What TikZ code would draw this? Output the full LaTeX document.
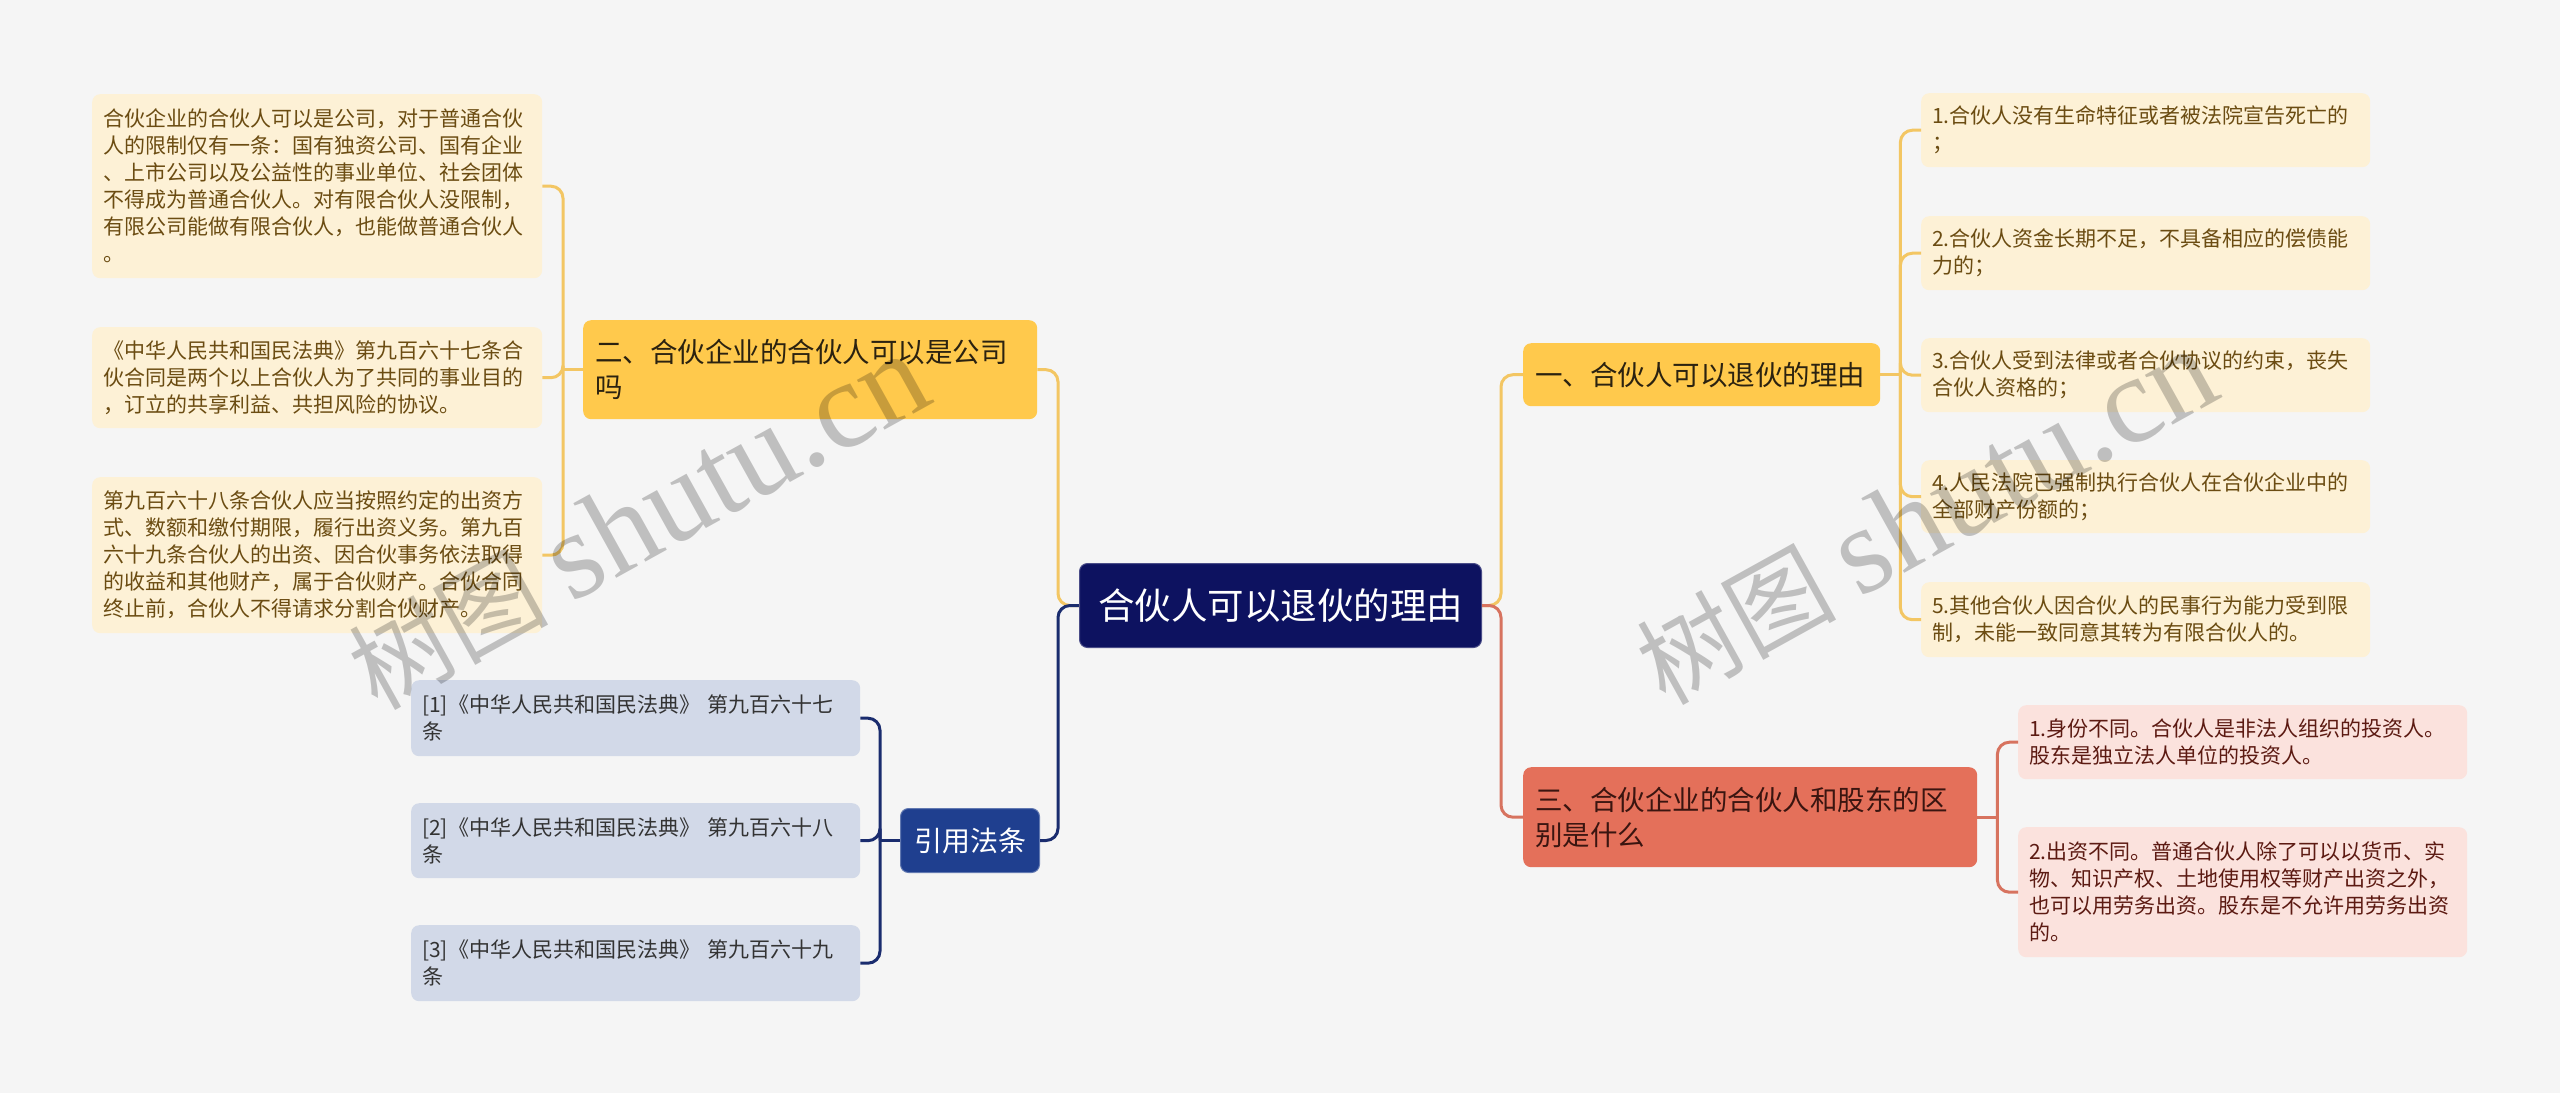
\documentclass[tikz,border=0pt]{standalone}
\usepackage{fontspec}
\setmainfont{Noto Sans CJK SC}
\newfontfamily\wmserif{Liberation Serif}
\definecolor{bgc}{HTML}{F5F5F5}
\definecolor{rootc}{HTML}{0D1260}
\definecolor{goldc}{HTML}{FFC94C}
\definecolor{goldtx}{HTML}{2B2210}
\definecolor{creamc}{HTML}{FDF1D6}
\definecolor{creamtx}{HTML}{6B4C12}
\definecolor{citc}{HTML}{D2D9E8}
\definecolor{cittx}{HTML}{333333}
\definecolor{citbc}{HTML}{1F3F8F}
\definecolor{salc}{HTML}{E4705A}
\definecolor{saltx}{HTML}{3A1510}
\definecolor{pinkc}{HTML}{FBE2DD}
\definecolor{pinktx}{HTML}{5C1A12}
\definecolor{goldln}{HTML}{F3C663}
\definecolor{navyln}{HTML}{1A2C6E}
\definecolor{salln}{HTML}{D7735F}
\tikzset{
  box/.style={rectangle, rounded corners=8pt, anchor=north west, inner xsep=11pt, inner ysep=0pt, align=left},
  leafY/.style={box, fill=creamc, text=creamtx, font=\fontsize{21}{27}\selectfont},
  leafC/.style={box, fill=citc, text=cittx, font=\fontsize{21}{27}\selectfont},
  leafP/.style={box, fill=pinkc, text=pinktx, font=\fontsize{21}{27}\selectfont},
  brG/.style={box, fill=goldc, text=goldtx, inner xsep=12pt, font=\fontsize{27.5}{35}\selectfont},
  brS/.style={box, fill=salc, text=saltx, inner xsep=12pt, font=\fontsize{27.5}{35}\selectfont},
  brC/.style={box, fill=citbc, draw=citbc!70!white, line width=1pt, text=white, align=center, font=\fontsize{28}{34}\selectfont},
  rootbox/.style={box, fill=rootc, draw=rootc!75!white, line width=1pt, text=white, align=center, font=\fontsize{36.5}{44}\selectfont},
  conG/.style={draw=goldln, line width=3pt, rounded corners=12pt},
  conN/.style={draw=navyln, line width=3pt, rounded corners=12pt},
  conS/.style={draw=salln, line width=3pt, rounded corners=12pt},
  wmark/.style={text=black, opacity=0.22, inner sep=0pt}
}
\begin{document}
\begin{tikzpicture}[x=1pt,y=-1pt]
\useasboundingbox (0,0) rectangle (2560,1093);
\fill[bgc] (0,0) rectangle (2560,1093);

% root
\node[rootbox, minimum width=402pt, minimum height=84pt, text width=380pt] (root) at (1079,563) {合伙人可以退伙的理由};

% branches
\node[brG, minimum width=454pt, minimum height=99pt, text width=430pt] (b2) at (583,320) {二、合伙企业的合伙人可以是公司\\吗};
\node[brC, minimum width=137pt, minimum height=64pt, text width=117pt] (bc) at (900,808) {引用法条};
\node[brG, minimum width=357pt, minimum height=63pt, text width=333pt] (b1) at (1523,343) {一、合伙人可以退伙的理由};
\node[brS, minimum width=454pt, minimum height=100pt, text width=430pt] (b3) at (1523,767) {三、合伙企业的合伙人和股东的区\\别是什么};

% left leaves
\node[leafY, minimum width=450pt, minimum height=184pt, text width=428pt] (l1) at (92,94) {合伙企业的合伙人可以是公司，对于普通合伙\\人的限制仅有一条：国有独资公司、国有企业\\、上市公司以及公益性的事业单位、社会团体\\不得成为普通合伙人。对有限合伙人没限制，\\有限公司能做有限合伙人，也能做普通合伙人\\。};
\node[leafY, minimum width=450pt, minimum height=101pt, text width=428pt] (l2) at (92,327) {《中华人民共和国民法典》第九百六十七条合\\伙合同是两个以上合伙人为了共同的事业目的\\，订立的共享利益、共担风险的协议。};
\node[leafY, minimum width=450pt, minimum height=156pt, text width=428pt] (l3) at (92,477) {第九百六十八条合伙人应当按照约定的出资方\\式、数额和缴付期限，履行出资义务。第九百\\六十九条合伙人的出资、因合伙事务依法取得\\的收益和其他财产，属于合伙财产。合伙合同\\终止前，合伙人不得请求分割合伙财产。};

% citation leaves
\node[leafC, minimum width=449pt, minimum height=76pt, text width=427pt] (c1) at (411,680) {[1]《中华人民共和国民法典》 第九百六十七\\条};
\node[leafC, minimum width=449pt, minimum height=75pt, text width=427pt] (c2) at (411,803) {[2]《中华人民共和国民法典》 第九百六十八\\条};
\node[leafC, minimum width=449pt, minimum height=76pt, text width=427pt] (c3) at (411,925) {[3]《中华人民共和国民法典》 第九百六十九\\条};

% right leaves
\node[leafY, minimum width=449pt, minimum height=74pt, text width=427pt] (r1) at (1921,93) {1.合伙人没有生命特征或者被法院宣告死亡的\\；};
\node[leafY, minimum width=449pt, minimum height=74pt, text width=427pt] (r2) at (1921,216) {2.合伙人资金长期不足，不具备相应的偿债能\\力的；};
\node[leafY, minimum width=449pt, minimum height=74pt, text width=427pt] (r3) at (1921,338) {3.合伙人受到法律或者合伙协议的约束，丧失\\合伙人资格的；};
\node[leafY, minimum width=449pt, minimum height=73pt, text width=427pt] (r4) at (1921,460) {4.人民法院已强制执行合伙人在合伙企业中的\\全部财产份额的；};
\node[leafY, minimum width=449pt, minimum height=75pt, text width=427pt] (r5) at (1921,582) {5.其他合伙人因合伙人的民事行为能力受到限\\制，未能一致同意其转为有限合伙人的。};

% pink leaves
\node[leafP, minimum width=449pt, minimum height=74pt, text width=427pt] (p1) at (2018,705) {1.身份不同。合伙人是非法人组织的投资人。\\股东是独立法人单位的投资人。};
\node[leafP, minimum width=449pt, minimum height=130pt, text width=427pt] (p2) at (2018,827) {2.出资不同。普通合伙人除了可以以货币、实\\物、知识产权、土地使用权等财产出资之外，\\也可以用劳务出资。股东是不允许用劳务出资\\的。};

% junctions
\coordinate (jL) at ([xshift=-21pt]root.west);
\coordinate (jR) at ([xshift=19pt]root.east);
\coordinate (j2) at ([xshift=-20pt]b2.west);
\coordinate (jc) at ([xshift=-20pt]bc.west);
\coordinate (j1) at ([xshift=20pt]b1.east);
\coordinate (j3) at ([xshift=20pt]b3.east);

% root connectors
\draw[conG] (root.west) -- (jL) |- (b2.east);
\draw[conN] (root.west) -- (jL) |- (bc.east);
\draw[conG] (root.east) -- (jR) |- (b1.west);
\draw[conS] (root.east) -- (jR) |- (b3.west);

% left leaf connectors
\draw[conG] (b2.west) -- (j2);
\draw[conG] (j2) |- (l1.east);
\draw[conG] (j2) |- (l2.east);
\draw[conG] (j2) |- (l3.east);

% citation connectors
\draw[conN] (bc.west) -- (jc);
\draw[conN] (jc) |- (c1.east);
\draw[conN] (jc) |- (c2.east);
\draw[conN] (jc) |- (c3.east);

% right leaf connectors
\draw[conG] (b1.east) -- (j1);
\draw[conG] (j1) |- (r1.west);
\draw[conG] (j1) |- (r2.west);
\draw[conG] (j1) |- (r3.west);
\draw[conG] (j1) |- (r4.west);
\draw[conG] (j1) |- (r5.west);

% pink connectors
\draw[conS] (b3.east) -- (j3);
\draw[conS] (j3) |- (p1.west);
\draw[conS] (j3) |- (p2.west);

% watermarks
\node[wmark, rotate=29] (wm1) at (638,522) {\fontsize{100}{100}\selectfont 树图 {\wmserif\fontsize{124}{124}\selectfont shutu.cn}};
\node[wmark, rotate=29] (wm2) at (1926,517) {\fontsize{100}{100}\selectfont 树图 {\wmserif\fontsize{124}{124}\selectfont shutu.cn}};
\end{tikzpicture}
\end{document}
